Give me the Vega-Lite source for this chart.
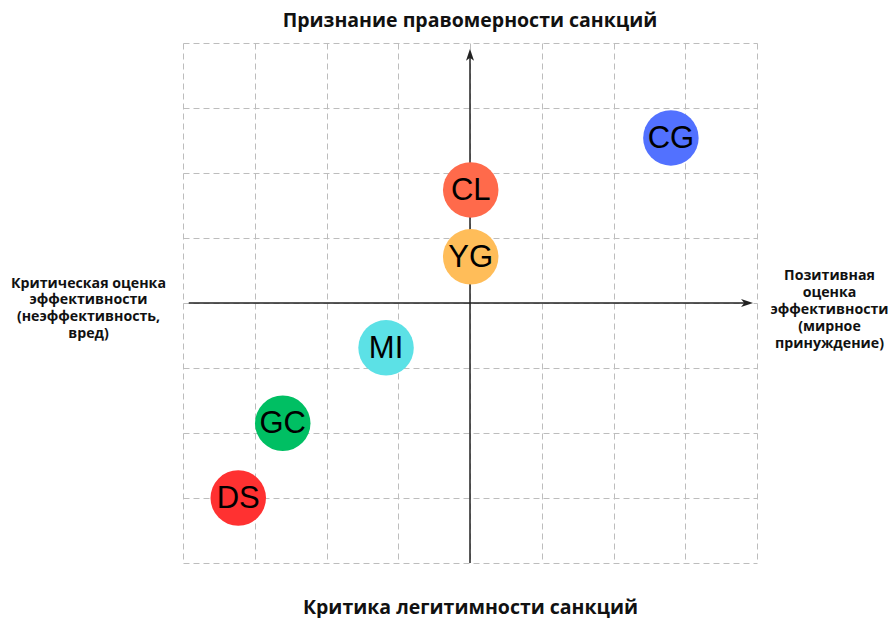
{
  "$schema": "https://vega.github.io/schema/vega-lite/v6.json",
  "width": 574,
  "height": 520,
  "autosize": {"type": "none"},
  "padding": {"left": 183, "top": 43, "right": 134, "bottom": 55},
  "background": "white",
  "title": {
    "text": "Признание правомерности санкций",
    "font": "Open Sans",
    "fontSize": 19.5,
    "fontWeight": "bold",
    "color": "#111111",
    "anchor": "middle",
    "frame": "group",
    "offset": 12
  },
  "config": {"view": {"stroke": null}},
  "datasets": {
    "groups": [
      {"code": "CG", "x": 2.8, "y": 2.54},
      {"code": "CL", "x": 0.01, "y": 1.74},
      {"code": "YG", "x": 0.01, "y": 0.71},
      {"code": "MI", "x": -1.17, "y": -0.69},
      {"code": "GC", "x": -2.61, "y": -1.85},
      {"code": "DS", "x": -3.23, "y": -3.0}
    ],
    "vaxis": [{"x": 0, "y": -4, "y2": 3.86}],
    "haxis": [{"y": 0, "x": -3.92, "x2": 3.9}],
    "heads": [
      {"x": 0, "y": 3.91, "dir": "up"},
      {"x": 3.945, "y": 0, "dir": "right"}
    ]
  },
  "resolve": {"axis": {"x": "independent", "y": "independent"}},
  "layer": [
    {
      "data": {"name": "vaxis"},
      "mark": {"type": "rule", "color": "#222222", "strokeWidth": 1.5},
      "encoding": {
        "x": {"field": "x", "type": "quantitative", "scale": {"domain": [-4, 4]}, "axis": null},
        "y": {"field": "y", "type": "quantitative", "scale": {"domain": [-4, 4]}, "axis": null},
        "y2": {"field": "y2"}
      }
    },
    {
      "data": {"name": "haxis"},
      "mark": {"type": "rule", "color": "#222222", "strokeWidth": 1.5},
      "encoding": {
        "x": {"field": "x", "type": "quantitative", "axis": null},
        "x2": {"field": "x2"},
        "y": {"field": "y", "type": "quantitative", "axis": null}
      }
    },
    {
      "data": {"name": "heads"},
      "mark": {"type": "point", "filled": true, "color": "#222222", "opacity": 1, "size": 64},
      "encoding": {
        "x": {"field": "x", "type": "quantitative", "axis": null},
        "y": {"field": "y", "type": "quantitative", "axis": null},
        "shape": {
          "field": "dir",
          "type": "nominal",
          "scale": {"domain": ["up", "right"], "range": ["M-1,3L0,0L1,3L0,2.2Z", "M-3,-1L0,0L-3,1L-2.2,0Z"]},
          "legend": null
        }
      }
    },
    {
      "data": {"name": "groups"},
      "mark": {"type": "circle", "opacity": 1, "size": 3080},
      "encoding": {
        "x": {
          "field": "x",
          "type": "quantitative",
          "axis": {
            "orient": "bottom",
            "values": [-4, -3, -2, -1, 0, 1, 2, 3, 4],
            "grid": true,
            "gridDash": [6, 4],
            "gridColor": "#bdbdbd",
            "gridWidth": 1,
            "gridOpacity": 1,
            "domain": false,
            "ticks": false,
            "labels": false,
            "title": "Критика легитимности санкций",
            "titleFont": "Open Sans",
            "titleFontSize": 19.5,
            "titleFontWeight": "bold",
            "titleColor": "#111111",
            "titleBaseline": "middle",
            "titleX": 287,
            "titleY": 44
          }
        },
        "y": {
          "field": "y",
          "type": "quantitative",
          "axis": {
            "orient": "left",
            "values": [-4, -3, -2, -1, 0, 1, 2, 3, 4],
            "grid": true,
            "gridDash": [6, 4],
            "gridColor": "#bdbdbd",
            "gridWidth": 1,
            "gridOpacity": 1,
            "domain": false,
            "ticks": false,
            "labels": false,
            "title": ["Критическая оценка", "эффективности", "(неэффективность,", "вред)"],
            "titleFont": "Open Sans",
            "titleFontSize": 14.2,
            "titleFontWeight": "bold",
            "titleColor": "#111111",
            "titleAngle": 0,
            "titleAlign": "center",
            "titleBaseline": "middle",
            "titleLineHeight": 16.8,
            "titleX": -95,
            "titleY": 240
          }
        },
        "color": {
          "field": "code",
          "type": "nominal",
          "scale": {
            "domain": ["CG", "CL", "YG", "MI", "GC", "DS"],
            "range": ["#5271ff", "#ff6a4b", "#ffbd59", "#5ce1e6", "#00bf63", "#ff3131"]
          },
          "legend": null
        }
      }
    },
    {
      "data": {"name": "groups"},
      "mark": {"type": "text", "font": "Liberation Sans", "fontSize": 31, "color": "#000000", "baseline": "middle", "align": "center", "dy": 1},
      "encoding": {
        "x": {"field": "x", "type": "quantitative", "axis": null},
        "y": {
          "field": "y",
          "type": "quantitative",
          "axis": {
            "orient": "right",
            "grid": false,
            "domain": false,
            "ticks": false,
            "labels": false,
            "title": ["Позитивная", "оценка", "эффективности", "(мирное", "принуждение)"],
            "titleFont": "Open Sans",
            "titleFontSize": 14.2,
            "titleFontWeight": "bold",
            "titleColor": "#111111",
            "titleAngle": 0,
            "titleAlign": "center",
            "titleBaseline": "middle",
            "titleLineHeight": 17,
            "titleX": 72,
            "titleY": 232
          }
        },
        "text": {"field": "code"}
      }
    }
  ]
}
